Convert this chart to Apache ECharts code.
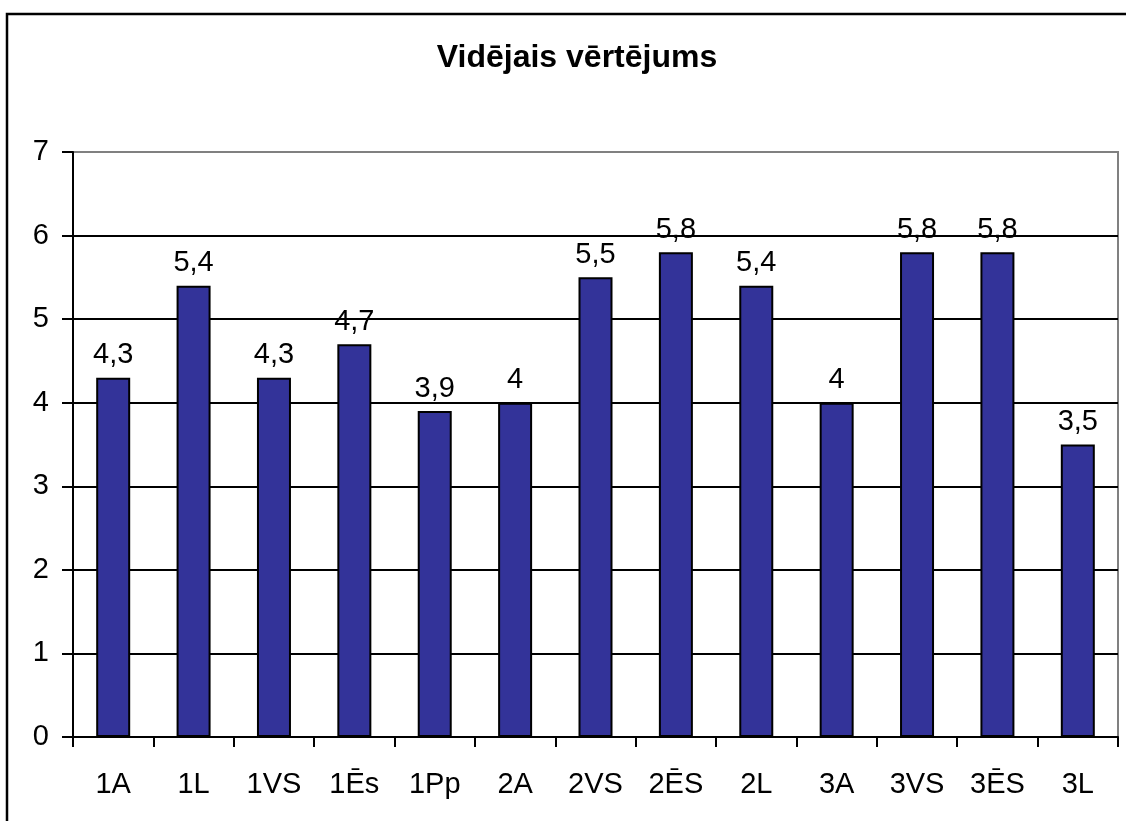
<!DOCTYPE html>
<html>
<head>
<meta charset="utf-8">
<script src="https://cdn.jsdelivr.net/npm/echarts@6/dist/echarts.min.js"></script>
<style>
  html, body { margin: 0; padding: 0; background: #fff; }
  #chart { width: 1126px; height: 821px; }
</style>
</head>
<body>
<div id="chart"></div>
<script>
// dati
const categories = ['1A', '1L', '1VS', '1Ēs', '1Pp', '2A', '2VS', '2ĒS', '2L', '3A', '3VS', '3ĒS', '3L'];
const scores = [4.3, 5.4, 4.3, 4.7, 3.9, 4, 5.5, 5.8, 5.4, 4, 5.8, 5.8, 3.5];
const yTicks = [0, 1, 2, 3, 4, 5, 6, 7];

const chart = echarts.init(document.getElementById('chart'));
const font = 'Liberation Sans, Arial, sans-serif';

chart.setOption({
  animation: false,
  backgroundColor: '#fff',
  title: {
    text: 'Vidējais vērtējums',
    left: 572,
    top: 37,
    textAlign: 'center',
    textStyle: { fontFamily: font, fontSize: 32, fontWeight: 'bold', color: '#000' }
  },
  graphic: [{
    type: 'rect',
    shape: { x: 7, y: 14, width: 1300, height: 1000 },
    style: { fill: 'none', stroke: '#000', lineWidth: 2.5 },
    silent: true
  }],
  grid: {
    left: 73, right: 8, top: 152, bottom: 84,
    show: true, borderColor: '#808080', borderWidth: 2, backgroundColor: 'transparent'
  },
  xAxis: {
    type: 'category',
    data: categories,
    axisLine: { lineStyle: { color: '#000', width: 2 } },
    axisTick: { show: true, length: 10, lineStyle: { color: '#000', width: 2 } },
    axisLabel: { interval: 0, margin: 33, color: '#000', fontFamily: font, fontSize: 29 }
  },
  yAxis: {
    type: 'value',
    min: yTicks[0],
    max: yTicks[yTicks.length - 1],
    interval: 1,
    axisLine: { show: true, lineStyle: { color: '#000', width: 2 } },
    axisTick: { show: true, length: 11, lineStyle: { color: '#000', width: 2 } },
    axisLabel: { margin: 24, color: '#000', fontFamily: font, fontSize: 29 },
    splitLine: {
      show: true,
      lineStyle: { color: ['#000', '#000', '#000', '#000', '#000', '#000', '#000', '#808080'], width: 2 }
    }
  },
  series: [{
    type: 'bar',
    data: scores,
    barWidth: 34,
    itemStyle: { color: '#333399', borderColor: '#000', borderWidth: 2 },
    label: {
      show: true,
      position: 'top',
      distance: 8,
      color: '#000',
      fontFamily: font,
      fontSize: 29,
      formatter: p => String(p.value).replace('.', ',')
    }
  }]
});
</script>
</body>
</html>
